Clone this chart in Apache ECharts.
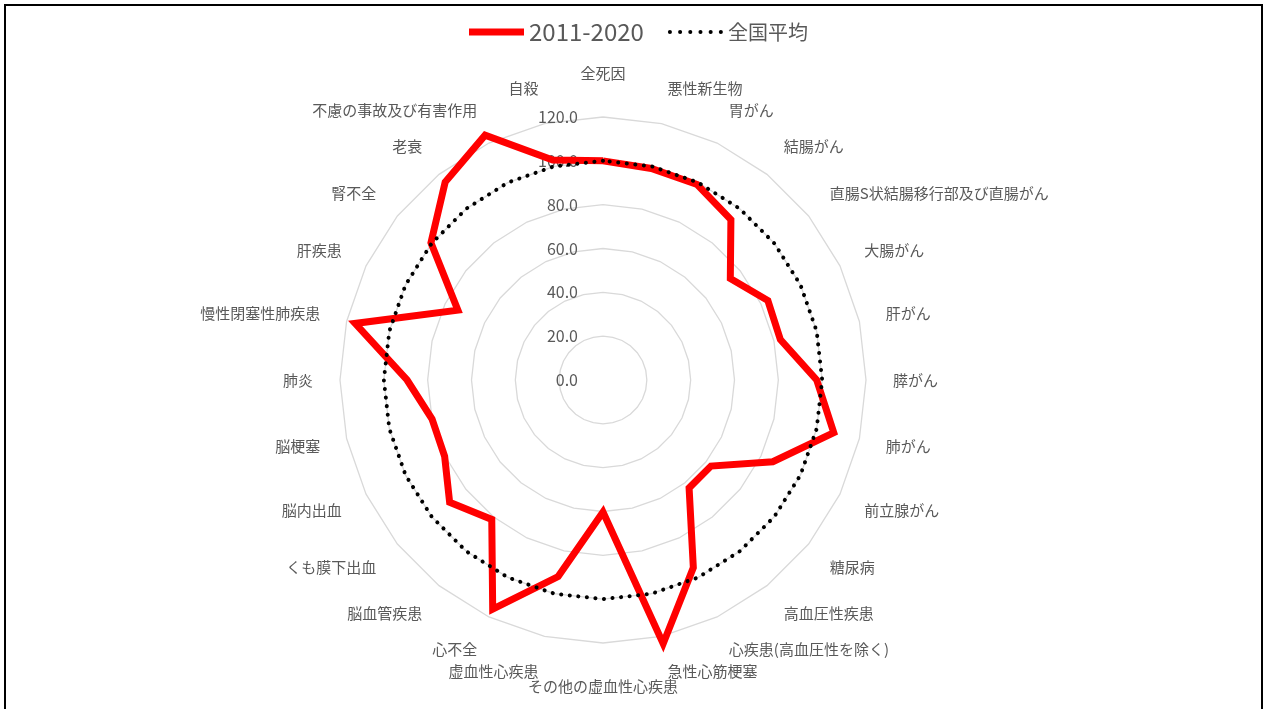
<!DOCTYPE html>
<html>
<head>
<meta charset="utf-8">
<script src="https://cdn.jsdelivr.net/npm/echarts@6/dist/echarts.min.js"></script>
<style>
  html, body { margin: 0; padding: 0; background: #fff; }
  #frame { position: absolute; left: 4px; top: 4px; width: 1255px; height: 720px; border: 2px solid #000; }
  #chart { position: absolute; left: 0; top: 0; width: 1264px; height: 709px; }
</style>
</head>
<body>
<div id="frame"></div>
<div id="chart"></div>
<script>
// 項目（時計回り、上から）
var categories = [
    '全死因', '悪性新生物', '胃がん', '結腸がん', '直腸S状結腸移行部及び直腸がん',
    '大腸がん', '肝がん', '膵がん', '肺がん', '前立腺がん', '糖尿病', '高血圧性疾患',
    '心疾患(高血圧性を除く)', '急性心筋梗塞', 'その他の虚血性心疾患', '虚血性心疾患',
    '心不全', '脳血管疾患', 'くも膜下出血', '脳内出血', '脳梗塞', '肺炎',
    '慢性閉塞性肺疾患', '肝疾患', '腎不全', '老衰', '不慮の事故及び有害作用', '自殺'
];
// 2011-2020
var values2011 = [
    100, 99, 99, 93.6, 74.3,
    83.5, 83, 97.5, 108, 86, 63, 63,
    95, 123.4, 60.2, 92,
    116, 81.4, 89.5, 80.2, 80, 89.4,
    116, 73.5, 100.4, 115.5, 124, 103
];
// 全国平均
var valuesNational = [
    100, 100, 100, 100, 100,
    100, 100, 100, 100, 100, 100, 100,
    100, 100, 100, 100,
    100, 100, 100, 100, 100, 100,
    100, 100, 100, 100, 100, 100
];
var axisMin = 0;
var axisMax = 120;
var axisStep = 20;

// echarts の radar は反時計回りなので並びを反転する
function clockwise(arr) {
    return [arr[0]].concat(arr.slice(1).reverse());
}

var font = 'Noto Sans CJK JP';
var gray = '#595959';

// 凡例の点線アイコン
var dots = '';
for (var i = 0; i < 6; i++) {
    var cx = 2 + i * 10;
    dots += 'M' + (cx - 2) + ',2a2,2 0 1,0 4,0a2,2 0 1,0 -4,0';
}

// 項目名を上下に少し広げる（Excel の配置に寄せる）
var nameRich = {};
var nameKey = {};
categories.forEach(function (name, idx) {
    var c = Math.cos(idx * 2 * Math.PI / categories.length);
    var s = Math.round(9 * c);
    var pad = [0, 0, 0, 0];
    if (idx === 0) {
        pad = [0, 0, s, 0];
    } else if (idx === categories.length / 2) {
        pad = [-s, 0, 0, 0];
    } else if (s > 0) {
        pad = [0, 0, 2 * s, 0];
    } else if (s < 0) {
        pad = [-2 * s, 0, 0, 0];
    }
    nameKey[name] = 'n' + idx;
    nameRich['n' + idx] = { padding: pad, fontSize: 15, color: gray, fontFamily: font };
});

var chart = echarts.init(document.getElementById('chart'));
chart.setOption({
    backgroundColor: 'transparent',
    animation: false,
    textStyle: { fontFamily: font, color: gray },
    legend: {
        top: 15,
        left: 464,
        itemWidth: 55,
        itemHeight: 7,
        itemGap: 24,
        selectedMode: false,
        formatter: function (name) {
            return name === '2011-2020' ? '{num|' + name + '}' : name;
        },
        textStyle: {
            fontSize: 20, color: gray, fontFamily: font,
            rich: { num: { fontSize: 24, color: gray, fontFamily: font } }
        },
        data: [
            { name: '2011-2020', icon: 'rect' },
            { name: '全国平均', icon: 'path://' + dots }
        ]
    },
    radar: {
        center: [603, 380],
        radius: 263,
        shape: 'polygon',
        splitNumber: (axisMax - axisMin) / axisStep,
        nameGap: 27,
        axisName: {
            color: gray, fontSize: 15, fontFamily: font,
            formatter: function (name) {
                return '{' + nameKey[name] + '|' + name + '}';
            },
            rich: nameRich
        },
        axisLine: { show: false },
        axisTick: { show: false },
        axisLabel: { show: false },
        splitArea: { show: false },
        splitLine: { lineStyle: { color: '#d9d9d9', width: 1.3 } },
        indicator: clockwise(categories).map(function (name) {
            return { name: name, min: axisMin, max: axisMax };
        })
    },
    // 目盛ラベル用
    polar: {
        center: [603, 380],
        radius: 263
    },
    angleAxis: {
        type: 'value',
        show: false
    },
    radiusAxis: {
        type: 'value',
        min: axisMin,
        max: axisMax,
        interval: axisStep,
        axisLine: { show: false },
        axisTick: { show: false },
        splitLine: { show: false },
        axisLabel: {
            margin: 25,
            fontSize: 16,
            color: gray,
            fontFamily: font,
            formatter: function (v) { return v.toFixed(1); }
        }
    },
    series: [{
        name: '2011-2020',
        type: 'radar',
        symbol: 'none',
        z: 3,
        lineStyle: { color: '#ff0000', width: 7, join: 'miter' },
        itemStyle: { color: '#ff0000' },
        data: [{ name: '2011-2020', value: clockwise(values2011) }]
    }, {
        name: '全国平均',
        type: 'radar',
        symbol: 'none',
        z: 4,
        lineStyle: { color: '#000', width: 4, type: [0.1, 8.5], cap: 'round' },
        itemStyle: { color: '#000' },
        data: [{ name: '全国平均', value: clockwise(valuesNational) }]
    }]
});
</script>
</body>
</html>
